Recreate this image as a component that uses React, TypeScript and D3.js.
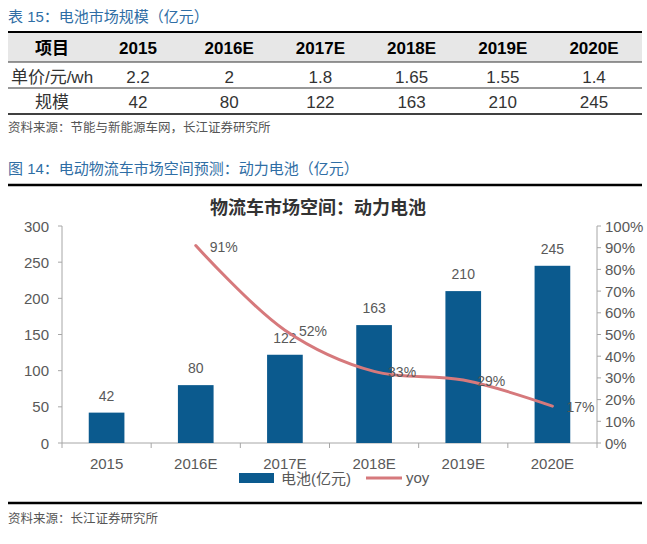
import React from "react";
import * as d3 from "d3";

const tableTitle = "表 15：电池市场规模（亿元）";
const tableHeaders = ["项目", "2015", "2016E", "2017E", "2018E", "2019E", "2020E"];
const priceLabel = "单价/元/wh";
const priceValues = ["2.2", "2", "1.8", "1.65", "1.55", "1.4"];
const scaleLabel = "规模";
const scaleValues = ["42", "80", "122", "163", "210", "245"];
const tableSource = "资料来源：节能与新能源车网，长江证券研究所";

const figTitle = "图 14：电动物流车市场空间预测：动力电池（亿元）";
const chartTitle = "物流车市场空间：动力电池";
const categories = ["2015", "2016E", "2017E", "2018E", "2019E", "2020E"];
const batteryValues = [42, 80, 122, 163, 210, 245];
const yoyCategories = ["2016E", "2017E", "2018E", "2019E", "2020E"];
const yoyValues = [0.91, 0.52, 0.33, 0.29, 0.17];
const yoyLabels = ["91%", "52%", "33%", "29%", "17%"];
const leftTicks = [0, 50, 100, 150, 200, 250, 300];
const rightTicks = [0, 0.1, 0.2, 0.3, 0.4, 0.5, 0.6, 0.7, 0.8, 0.9, 1.0];
const legendBar = "电池(亿元)";
const legendLine = "yoy";
const chartSource = "资料来源：长江证券研究所";

const FONT = "'Liberation Sans', Arial, 'Noto Sans CJK SC', sans-serif";
const BLUE_TITLE = "#2F6EA5";
const BAR = "#0B5A8E";
const LINE = "#D6797C";
const TXT = "#595959";
const AXIS = "#A6A6A6";

export default function App() {
  // table scales
  const colX = d3.scalePoint<string>().domain(tableHeaders.slice(1)).range([138, 594]);
  const firstColX = 52;

  // chart scales
  const x = d3.scaleBand<string>().domain(categories).range([62, 597]).padding(0);
  const bar = d3.scaleBand<string>().domain(categories).range([62, 597]).paddingInner(0.6).paddingOuter(0.3);
  const yL = d3.scaleLinear().domain([0, 300]).range([443, 226]);
  const yR = d3.scaleLinear().domain([0, 1]).range([443, 226]);
  const cx = (c: string) => (x(c) as number) + x.bandwidth() / 2;

  const linePts: [number, number][] = yoyCategories.map((c, i) => [cx(c), yR(yoyValues[i])]);
  const lineGen = d3.line().curve(d3.curveCatmullRom.alpha(0.5));
  const path = lineGen(linePts) || "";

  const boundaries = [...categories.map((c) => x(c) as number), 597];

  return (
    <svg width={647} height={544} style={{ position: "absolute", left: 0, top: 0, background: "#fff" }} fontFamily={FONT}>
      <rect x={0} y={0} width={647} height={544} fill="#fff" />
      {/* Table */}
      <text x={8} y={16} fontSize={15} fill={BLUE_TITLE} dominantBaseline="central">{tableTitle}</text>
      <rect x={8} y={33} width={634} height={29} fill="#E7E7E7" />
      <line x1={8} x2={642} y1={32} y2={32} stroke="#000" strokeWidth={2} />
      <line x1={8} x2={642} y1={62} y2={62} stroke="#333" strokeWidth={1} />
      <line x1={8} x2={642} y1={88} y2={88} stroke="#333" strokeWidth={1} />
      <line x1={8} x2={642} y1={114} y2={114} stroke="#000" strokeWidth={1.5} />
      {tableHeaders.map((h, i) => (
        <text key={h} x={i === 0 ? firstColX : (colX(h) as number)} y={48} fontSize={17} fontWeight="bold" textAnchor="middle" dominantBaseline="central" fill="#000">{h}</text>
      ))}
      <text x={firstColX} y={77} fontSize={17} textAnchor="middle" dominantBaseline="central" fill="#333">{priceLabel}</text>
      {priceValues.map((v, i) => (
        <text key={"p" + i} x={colX(tableHeaders[i + 1]) as number} y={77} fontSize={17} textAnchor="middle" dominantBaseline="central" fill="#333">{v}</text>
      ))}
      <text x={firstColX} y={102} fontSize={17} textAnchor="middle" dominantBaseline="central" fill="#333">{scaleLabel}</text>
      {scaleValues.map((v, i) => (
        <text key={"s" + i} x={colX(tableHeaders[i + 1]) as number} y={102} fontSize={17} textAnchor="middle" dominantBaseline="central" fill="#333">{v}</text>
      ))}
      <text x={8} y={128} fontSize={12.5} fill="#555" dominantBaseline="central">{tableSource}</text>

      {/* Figure */}
      <text x={8} y={168} fontSize={15} fill={BLUE_TITLE} dominantBaseline="central">{figTitle}</text>
      <line x1={8} x2={642} y1={185} y2={185} stroke="#000" strokeWidth={2.5} />
      <text x={318} y={208} fontSize={18} fontWeight="bold" textAnchor="middle" dominantBaseline="central" fill="#333">{chartTitle}</text>

      {/* axes */}
      <line x1={62} x2={62} y1={226} y2={443} stroke={AXIS} />
      <line x1={597} x2={597} y1={226} y2={443} stroke={AXIS} />
      <line x1={62} x2={597} y1={443} y2={443} stroke={AXIS} />
      {leftTicks.map((t) => (
        <g key={"l" + t}>
          <line x1={58} x2={62} y1={yL(t)} y2={yL(t)} stroke={AXIS} />
          <text x={49} y={yL(t)} fontSize={15} textAnchor="end" dominantBaseline="central" fill={TXT}>{t}</text>
        </g>
      ))}
      {rightTicks.map((t) => (
        <g key={"r" + t}>
          <line x1={597} x2={601} y1={yR(t)} y2={yR(t)} stroke={AXIS} />
          <text x={605} y={yR(t)} fontSize={15} textAnchor="start" dominantBaseline="central" fill={TXT}>{d3.format(".0%")(t)}</text>
        </g>
      ))}
      {boundaries.map((b, i) => (
        <line key={"b" + i} x1={b} x2={b} y1={443} y2={448} stroke={AXIS} />
      ))}
      {categories.map((c) => (
        <text key={"c" + c} x={cx(c)} y={463} fontSize={15} textAnchor="middle" dominantBaseline="central" fill={TXT}>{c}</text>
      ))}

      {/* bars */}
      {categories.map((c, i) => (
        <g key={"bar" + c}>
          <rect x={bar(c) as number} y={yL(batteryValues[i])} width={bar.bandwidth()} height={yL(0) - yL(batteryValues[i])} fill={BAR} />
          <text x={cx(c)} y={yL(batteryValues[i]) - 17} fontSize={14} textAnchor="middle" dominantBaseline="central" fill={TXT}>{batteryValues[i]}</text>
        </g>
      ))}

      {/* line */}
      <path d={path} fill="none" stroke={LINE} strokeWidth={3} strokeLinecap="round" />
      {yoyCategories.map((c, i) => (
        <text key={"y" + c} x={cx(c) + 14} y={yR(yoyValues[i]) + 1} fontSize={14} textAnchor="start" dominantBaseline="central" fill={TXT}>{yoyLabels[i]}</text>
      ))}

      {/* legend */}
      <rect x={239} y={473} width={35} height={10} fill={BAR} />
      <text x={281} y={478} fontSize={15} dominantBaseline="central" fill={TXT}>{legendBar}</text>
      <line x1={366} x2={402} y1={478} y2={478} stroke={LINE} strokeWidth={3} />
      <text x={406} y={477} fontSize={15} dominantBaseline="central" fill={TXT}>{legendLine}</text>

      <line x1={8} x2={642} y1={503} y2={503} stroke="#000" strokeWidth={2.5} />
      <text x={8} y={519} fontSize={12.5} fill="#555" dominantBaseline="central">{chartSource}</text>
    </svg>
  );
}
